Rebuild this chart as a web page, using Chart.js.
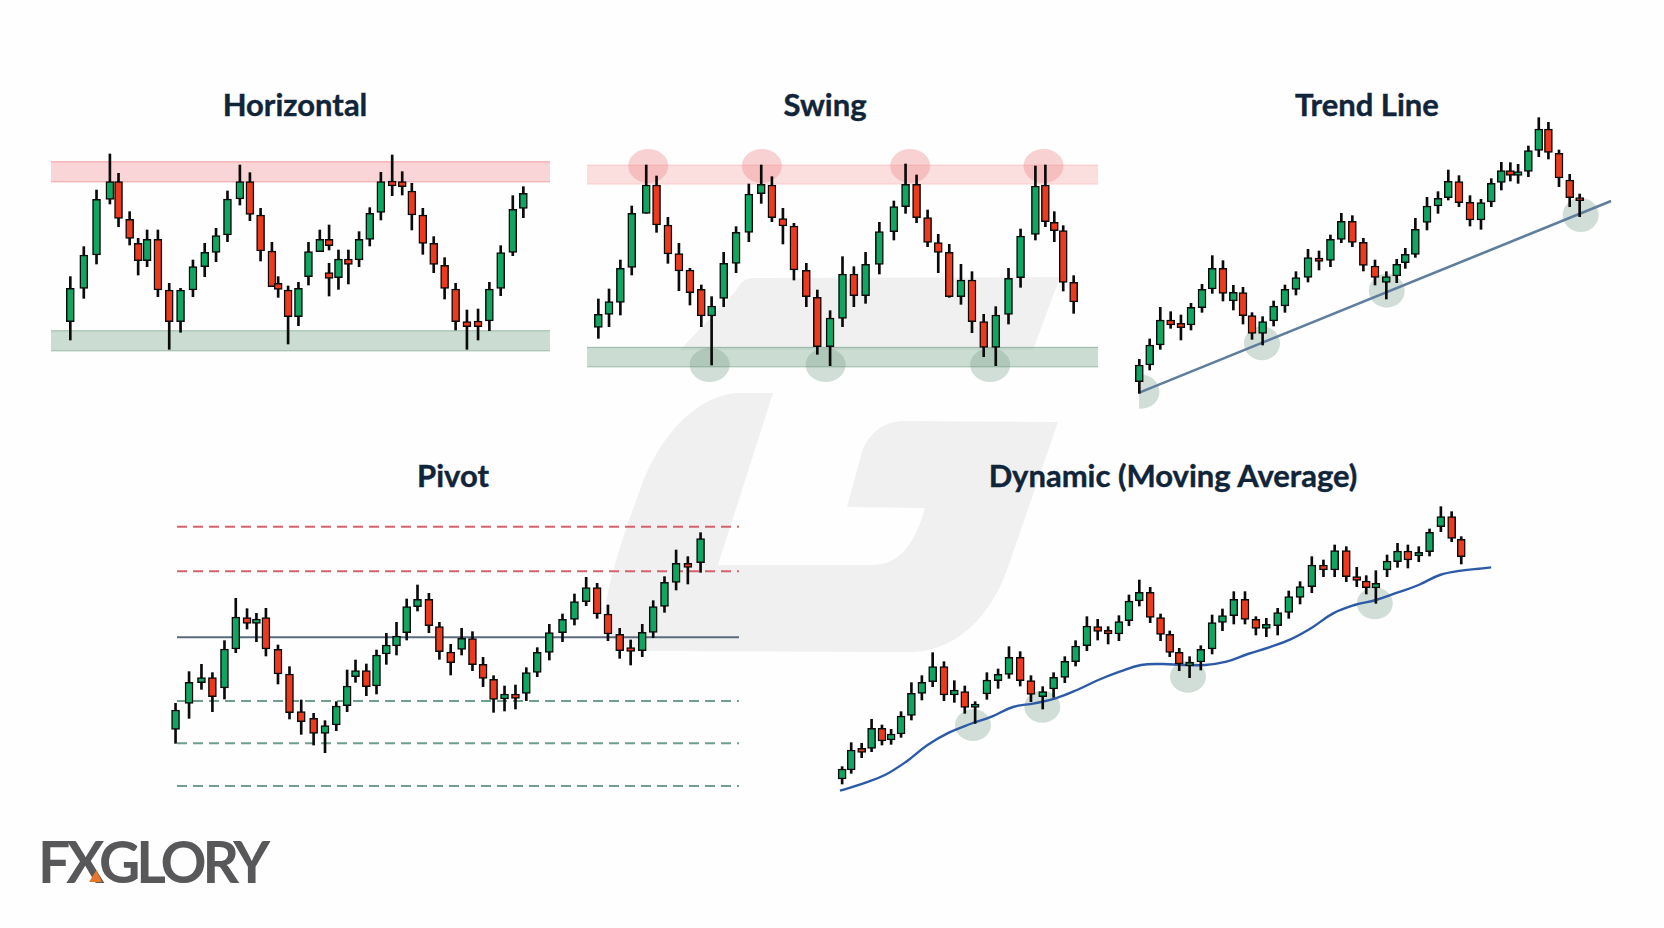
<!DOCTYPE html>
<html>
<head>
<meta charset="utf-8">
<title>Support and resistance types</title>
<script src="https://cdn.jsdelivr.net/npm/chart.js@4/dist/chart.umd.min.js"></script>
<style>
  html, body { margin: 0; padding: 0; background: #ffffff; }
  #page { position: relative; width: 1664px; height: 928px; overflow: hidden; background: #fefefe; }
  #watermark { position: absolute; left: 0; top: 0; }
  canvas { position: absolute; }
  .title {
    position: absolute; width: 500px; margin-left: -250px; text-align: center;
    font: 700 31px Lato, sans-serif; color: #10243a; line-height: 36px;
    -webkit-text-stroke: 0.4px #10243a;
  }
  #logo {
    position: absolute; left: 38px; top: 826px;
    font: 700 57px/70px Lato, sans-serif; color: #58585a; letter-spacing: -4px;
  }
  #logoMark { position: absolute; left: 0; top: 0; }
</style>
</head>
<body>
<div id="page">
  <svg id="watermark" width="1664" height="928">
    <path fill="#f0f0f0" d="M752 278 Q742 278 735 292 L680 350 L1033 350 L1060 277 Z"/>
    <path fill="#f0f0f0" d="M773 393 L735 393 C690 398 655 445 640 490 C625 530 612 570 607 597 C602 632 612 651 652 651 L913 652 C960 650 992 612 1007 570 L1058 422 L903 421 C880 422 868 436 862 452 L847 507 L925 508 C915 545 898 565 873 565 L718 565 Z"/>
  </svg>

  <div class="title" style="left:295px; top:86px">Horizontal</div>
  <div class="title" style="left:825px; top:86px">Swing</div>
  <div class="title" style="left:1367px; top:86px">Trend Line</div>
  <div class="title" style="left:453px; top:457px">Pivot</div>
  <div class="title" style="left:1173px; top:457px">Dynamic (Moving Average)</div>

  <canvas id="horizontalChart" width="509" height="250" style="left:41px; top:130px"></canvas>
  <canvas id="swingChart" width="521" height="255" style="left:577px; top:140px"></canvas>
  <canvas id="trendChart" width="484" height="310" style="left:1129px; top:100px"></canvas>
  <canvas id="pivotChart" width="572" height="320" style="left:167px; top:480px"></canvas>
  <canvas id="dynamicChart" width="662" height="295" style="left:830px; top:500px"></canvas>

  <div id="logo">FXGLORY</div>
  <svg id="logoMark" width="200" height="928"><path fill="#e8772e" d="M96.5 870 L102 882 L89 882 Z"/></svg>
</div>

<script>
/* ===============================
   Data
   (periods are session times, the candles are not quite evenly spaced)
================================ */
const hPeriod = [0,1.25,2.43,3.67,4.47,5.5,6.29,7.12,8.12,9.17,10.22,11.37,12.46,13.51,14.57,15.72,16.65,17.64,18.69,19.27,20.19,21.15,22.08,23.13,23.99,23.99,24.86,25.78,26.77,27.76,28.79,29.84,30.77,31.66,32.68,33.69,34.7,35.72,36.77,37.8,38.85,39.9,41.02,42];
const hOpen  = [275,375,475,642,695,582,510,458,522,370,275,370,440,483,535,643,695,595,487,390,370,290,410,485,522,422,407,463,460,522,603,697,695,667,595,510,444,373,275,277,277,375,483,615];
const hClose = [375,475,642,695,585,525,458,522,370,275,370,440,483,533,643,695,597,487,380,372,290,375,485,522,503,405,463,447,522,600,695,682,680,595,510,447,375,275,260,260,373,482,612,660];
const hHigh  = [410,500,670,778,720,605,525,550,550,390,375,460,510,555,667,745,722,615,513,410,382,393,513,550,565,450,490,490,545,617,723,775,725,690,615,530,467,390,310,313,393,503,653,680];
const hLow   = [220,345,448,628,560,505,415,440,350,192,243,350,410,455,515,625,578,457,380,348,208,263,385,485,490,352,372,388,440,502,580,653,655,550,477,422,343,250,192,220,248,353,473,587];
const hResistance = [695, 755];
const hSupport = [188, 248];

const sPeriod = [0,0.92,1.9,2.88,4.13,5.02,6,6.95,7.9,8.88,9.77,10.81,11.88,12.98,14.05,14.97,15.92,16.87,17.94,18.89,19.99,21.06,22.04,23.05,24.24,25.49,26.5,27.45,28.4,29.32,30.27,31.28,32.23,33.24,34.28,35.38,36.42,37.7,38.56,39.33,40.1,41];
const sOpen  = [258,297,333,438,600,685,565,479,430,372,292,345,450,543,659,685,584,562,429,348,200,285,418,353,447,545,620,687,587,512,483,350,400,275,198,297,407,537,685,573,548,393];
const sClose = [297,335,435,600,685,565,478,427,362,292,322,450,543,658,687,587,562,430,350,200,286,418,353,447,545,620,687,587,513,483,350,400,275,198,295,405,532,682,575,548,393,334];
const sHigh  = [343,373,460,622,745,712,588,510,435,385,350,483,560,688,745,710,615,570,450,370,308,470,440,483,573,637,748,715,610,537,507,447,425,297,320,435,553,742,745,605,563,413];
const sLow   = [225,260,295,415,600,543,450,368,325,260,145,320,422,515,630,575,508,400,320,177,143,260,320,330,418,520,600,572,500,422,348,327,242,170,143,268,378,520,560,515,367,300];
const sResistance = [688, 745];
const sSupport = [140, 198];
const sHighTouches = [[4.3, 742], [14.1, 742], [26.9, 742], [38.4, 742]];
const sLowTouches = [[9.6, 145], [19.6, 145], [33.8, 145]];

const tPeriod = [0,0.99,2,2.99,3.97,4.93,5.98,6.96,7.98,8.97,9.89,10.75,11.76,12.81,13.89,14.94,16.09,17.14,18.23,19.27,20.32,21.37,22.48,23.56,24.55,25.37,26.33,27.44,28.49,29.47,30.49,31.54,32.59,33.57,34.53,35.39,36.13,37.11,38.1,39.02,40.03,41.05,42];
const tOpen  = [95,145,205,280,270,265,317,373,435,337,362,293,240,277,322,372,408,466,459,522,576,513,442,393,412,452,477,573,622,647,695,633,580,634,693,728,714,726,789,853,780,700,647];
const tClose = [145,205,280,265,257,318,372,435,360,363,293,240,275,322,372,407,467,456,522,576,513,444,408,410,447,477,552,622,645,696,632,580,632,690,728,714,725,788,853,783,706,647,638];
const tHigh  = [162,223,318,305,295,330,387,473,458,384,378,302,290,337,385,425,492,487,535,600,593,525,460,425,462,495,585,648,665,730,713,653,642,704,753,752,747,802,887,873,790,717,658];
const tLow   = [60,130,192,255,220,250,303,360,337,310,268,222,205,262,303,355,394,430,440,512,500,427,385,343,392,435,468,550,600,640,620,562,552,620,670,697,690,710,770,763,680,620,590];
const tLinePeriods = [0, 45];
const tLineValues = [62, 637];
const tTouches = [[0.2, 65], [11.7, 210], [23.6, 368], [42.1, 595]];

const pPeriod = [0,1.21,2.32,3.3,4.38,5.39,6.4,7.24,8.09,9.17,10.2,11.25,12.36,13.38,14.39,15.36,16.11,17.08,17.99,18.87,19.78,20.69,21.66,22.68,23.62,24.63,25.61,26.58,27.53,28.47,29.45,30.43,31.4,32.38,33.46,34.64,35.71,36.76,37.74,38.71,39.76,40.74,41.78,42.76,43.77,44.81,45.86,47];
const pOpen  = [162,240,302,317,286,403,497,480,497,402,328,215,195,150,175,233,320,338,292,388,412,452,530,552,470,394,402,434,357,312,253,268,270,333,393,452,492,545,587,508,447,407,398,453,531,603,660,662];
const pClose = [220,303,317,260,403,499,480,493,403,328,212,185,150,173,232,292,338,290,385,415,442,530,552,473,395,362,435,356,315,252,268,255,332,393,452,492,545,587,508,448,398,396,453,530,603,660,648,734];
const pHigh  = [240,335,357,332,428,555,524,510,525,415,350,250,210,188,245,340,370,358,400,450,483,553,595,570,483,417,465,455,378,323,292,295,347,407,477,508,568,618,600,535,465,430,477,548,620,700,680,752];
const pLow   = [120,195,282,215,253,392,463,425,382,298,193,147,115,92,158,215,303,263,268,357,385,430,517,452,372,325,385,338,290,213,217,223,248,320,370,425,475,533,495,428,375,355,380,437,513,580,598,633];
const pResistanceLevels = [770, 636];
const pPivotLevel = [438];
const pSupportLevels = [247, 120, -8];

const dPeriod = [0,0.85,1.83,2.76,3.73,4.59,5.52,6.49,7.47,8.48,9.54,10.51,11.49,12.46,13.56,14.61,15.63,16.68,17.69,18.79,19.81,20.86,21.87,22.93,23.94,24.92,25.93,26.87,27.84,28.86,29.83,30.69,31.58,32.55,33.6,34.66,35.63,36.69,37.74,38.76,39.74,40.8,41.84,42.9,44,45.09,46.14,47.23,48.21,49.1,50,51.05,52.03,53,54.02,55.03,56.09,57.1,58];
const dOpen  = [13,40,105,105,165,130,148,204,270,305,350,265,275,228,268,308,327,378,308,260,283,318,365,413,470,459,448,488,547,573,497,447,393,352,364,403,483,503,552,492,465,473,513,558,590,655,640,698,620,607,586,640,665,697,682,695,770,800,732];
const dClose = [43,100,93,165,127,148,202,270,303,350,265,280,228,238,310,327,378,308,267,275,318,366,412,472,456,448,485,547,573,498,447,393,358,363,402,482,503,552,492,465,477,512,560,590,655,640,698,620,609,587,600,667,697,670,693,753,800,735,680];
const dHigh  = [50,122,120,192,175,162,215,302,323,392,365,308,292,245,332,343,410,395,323,290,332,380,428,500,492,470,503,565,610,588,508,457,405,380,413,505,523,575,575,500,495,525,577,605,680,670,715,710,648,623,638,685,720,715,710,763,830,815,740];
const dLow   = [-2,30,77,95,115,117,138,190,250,290,248,243,210,180,252,285,315,292,245,223,258,302,352,398,430,418,428,473,532,482,428,380,338,317,340,388,458,478,478,445,440,445,495,538,572,620,620,605,590,568,540,620,648,646,665,682,755,725,658];
const dMaPeriods = [-0.2,2,4,6,8,10,12,14,16,18,20,22,24,26,28,30,32,34,36,38,40,42,44,46,48,50,52,54,56,58,60,60.8];
const dMaValues = [-22,0,25,65,115,152,178,200,229,240,255,280,310,335,355,358,355,355,365,388,408,432,467,510,535,550,572,595,625,638,645,648];
const dTouches = [[12.26, 175], [18.75, 230], [32.4, 320], [49.9, 540]];

/* ===============================
   Colours
================================ */
const GREEN = "#10a560";
const RED = "#ee3a1c";
const BAND_RED = { fill: "rgba(240,120,125,0.30)", edge: "rgba(236,120,125,0.55)" };
const BAND_RED_PALE = { fill: "rgba(244,140,140,0.27)", edge: "rgba(244,150,150,0.30)" };
const BAND_GREEN = { fill: "rgba(120,165,140,0.38)", edge: "rgba(120,160,138,0.60)" };
const SPOT_RED = "rgba(238,120,125,0.33)";
const SPOT_GREEN = "rgba(105,150,125,0.30)";

/* ===============================
   Plugin - bands and touch spots
================================ */
const zonesPlugin = {
  id: "zones",
  beforeDatasetsDraw(chart, args, opts) {
    const { ctx, chartArea, scales } = chart;
    ctx.save();
    (opts.bands || []).forEach((b) => {
      const top = scales.y.getPixelForValue(b.range[1]);
      const bottom = scales.y.getPixelForValue(b.range[0]);
      ctx.fillStyle = b.style.fill;
      ctx.fillRect(chartArea.left, top, chartArea.width, bottom - top);
      ctx.fillStyle = b.style.edge;
      ctx.fillRect(chartArea.left, top - 0.5, chartArea.width, 1.2);
      ctx.fillRect(chartArea.left, bottom - 0.5, chartArea.width, 1.2);
    });
    ctx.beginPath();
    ctx.rect(chartArea.left, 0, chart.width, chart.height);
    ctx.clip();
    (opts.spots || []).forEach((s) => {
      ctx.fillStyle = s.color;
      s.points.forEach(([period, value]) => {
        ctx.beginPath();
        ctx.ellipse(scales.x.getPixelForValue(period), scales.y.getPixelForValue(value), s.rx, s.ry, 0, 0, Math.PI * 2);
        ctx.fill();
      });
    });
    ctx.restore();
  },
};

/* ===============================
   Candle chart - one per panel
================================ */
function renderCandles(id, series, panel) {
  const colors = series.open.map((v, i) => (series.close[i] >= v ? GREEN : RED));

  const datasets = [
    {
      type: "bar",
      order: 2,
      data: series.period.map((p, i) => ({ x: p, y: [series.low[i], series.high[i]] })),
      backgroundColor: "#0a0a0a",
      barThickness: 2,
      grouped: false,
      clip: false,
    },
    {
      type: "bar",
      order: 1,
      data: series.period.map((p, i) => ({ x: p, y: [series.open[i], series.close[i]] })),
      backgroundColor: colors,
      borderColor: "#0a0a0a",
      borderWidth: 1.5,
      borderSkipped: false,
      barThickness: 8,
      grouped: false,
      clip: false,
    },
  ].concat((panel.lines || []).map((l) => ({
    type: "line",
    order: 3,
    data: l.periods.map((p, i) => ({ x: p, y: l.values[i] })),
    borderColor: l.color,
    borderWidth: l.width,
    borderDash: l.dash || [],
    tension: l.tension || 0,
    pointRadius: 0,
    fill: false,
    clip: false,
  })));

  new Chart(document.getElementById(id), {
    type: "bar",
    data: { datasets },
    plugins: [zonesPlugin],
    options: {
      responsive: false,
      animation: false,
      layout: { padding: { left: 10 } }, // room for a first candle past the axis start
      plugins: {
        legend: { display: false },
        tooltip: { enabled: false },
        zones: { bands: panel.bands, spots: panel.spots },
      },
      scales: {
        x: { type: "linear", display: false, min: panel.xRange[0], max: panel.xRange[1], offset: false },
        y: { type: "linear", display: false, min: panel.yRange[0], max: panel.yRange[1] },
      },
    },
  });
}

/* a flat level across the whole panel */
function levelLine(value, xRange, color, width, dash) {
  return { periods: xRange, values: [value, value], color, width, dash };
}

/* ===============================
   Panels
================================ */
renderCandles("horizontalChart", { period: hPeriod, open: hOpen, close: hClose, high: hHigh, low: hLow }, {
  xRange: [-1.79, 44.47],
  yRange: [100, 850],
  bands: [
    { range: hResistance, style: BAND_RED },
    { range: hSupport, style: BAND_GREEN },
  ],
});

renderCandles("swingChart", { period: sPeriod, open: sOpen, close: sClose, high: sHigh, low: sLow }, {
  xRange: [-0.98, 43.1],
  yRange: [55, 820],
  bands: [
    { range: sResistance, style: BAND_RED_PALE },
    { range: sSupport, style: BAND_GREEN },
  ],
  spots: [
    { points: sHighTouches, color: SPOT_RED, rx: 20, ry: 17 },
    { points: sLowTouches, color: SPOT_GREEN, rx: 20, ry: 17 },
  ],
});

renderCandles("trendChart", { period: tPeriod, open: tOpen, close: tClose, high: tHigh, low: tLow }, {
  xRange: [-0.03, 45.18],
  yRange: [10, 940],
  spots: [{ points: tTouches, color: SPOT_GREEN, rx: 18, ry: 17 }],
  lines: [{ periods: tLinePeriods, values: tLineValues, color: "#5f7d9c", width: 2.5 }],
});

const pXRange = [0.13, 50.44];
renderCandles("pivotChart", { period: pPeriod, open: pOpen, close: pClose, high: pHigh, low: pLow }, {
  xRange: pXRange,
  yRange: [-50, 910],
  lines: [
    ...pResistanceLevels.map((v) => levelLine(v, pXRange, "#d6606e", 2, [10, 6])),
    ...pPivotLevel.map((v) => levelLine(v, pXRange, "#5b6b7e", 2)),
    ...pSupportLevels.map((v) => levelLine(v, pXRange, "#6f9f8c", 2, [10, 6])),
  ],
});

renderCandles("dynamicChart", { period: dPeriod, open: dOpen, close: dClose, high: dHigh, low: dLow }, {
  xRange: [-0.2, 60.88],
  yRange: [-35, 850],
  spots: [{ points: dTouches, color: SPOT_GREEN, rx: 18, ry: 16 }],
  lines: [{ periods: dMaPeriods, values: dMaValues, color: "#2c5aa6", width: 2.4, tension: 0.4 }],
});
</script>
</body>
</html>
